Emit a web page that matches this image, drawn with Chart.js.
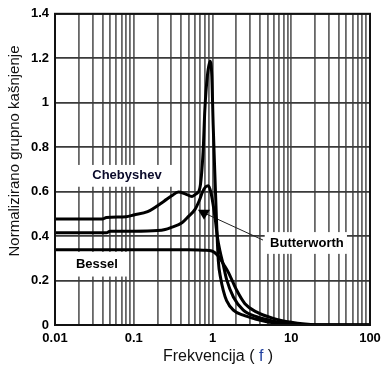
<!DOCTYPE html>
<html>
<head>
<meta charset="utf-8">
<script src="https://cdn.jsdelivr.net/npm/chart.js@4.4.1/dist/chart.umd.min.js"></script>
<style>
  html, body { margin: 0; padding: 0; background: #fff; }
  canvas { display: block; }
</style>
</head>
<body>
<canvas id="chartDelay" width="390" height="384"></canvas>
<script>
// frekvencija (normalizirana) i kasnjenje, ocitano sa slike
const chebFreq  = [0.01, 0.04, 0.045, 0.08, 0.1, 0.15, 0.24, 0.3, 0.37, 0.45, 0.55, 0.62, 0.69, 0.76, 0.8, 0.86, 0.93, 0.98, 1.02, 1.08, 1.13, 1.185, 1.27, 1.37, 1.51, 1.84, 2.46, 3.5, 4.88, 7, 10, 15, 20, 100];
const chebDelay = [0.477, 0.477, 0.484, 0.487, 0.495, 0.51, 0.556, 0.58, 0.598, 0.59, 0.578, 0.59, 0.615, 0.78, 0.97, 1.12, 1.187, 1.12, 0.9, 0.644, 0.45, 0.29, 0.21, 0.156, 0.11, 0.067, 0.044, 0.027, 0.015, 0.008, 0.004, 0.001, 0, 0];

const butterFreq  = [0.01, 0.045, 0.05, 0.1, 0.2, 0.25, 0.29, 0.41, 0.5, 0.6, 0.68, 0.75, 0.82, 0.885, 0.95, 1.02, 1.08, 1.16, 1.245, 1.37, 1.51, 1.84, 2.46, 3.64, 6.5, 10, 15, 20, 100];
const butterDelay = [0.415, 0.415, 0.422, 0.422, 0.425, 0.43, 0.437, 0.46, 0.49, 0.52, 0.56, 0.6, 0.622, 0.627, 0.6, 0.54, 0.48, 0.39, 0.333, 0.27, 0.205, 0.126, 0.067, 0.037, 0.015, 0.006, 0.002, 0, 0];

const besselFreq  = [0.01, 0.5, 0.8, 0.98, 1.18, 1.4, 1.59, 2.03, 2.58, 3.6, 5.9, 10, 15, 20, 100];
const besselDelay = [0.338, 0.338, 0.336, 0.333, 0.31, 0.27, 0.237, 0.156, 0.096, 0.059, 0.03, 0.012, 0.004, 0.001, 0];

const decades = [0.01, 0.1, 1, 10, 100];
const yTicks = [0, 0.2, 0.4, 0.6, 0.8, 1, 1.2, 1.4];

const toPoints = (xs, ys) => xs.map((x, i) => ({ x: x, y: ys[i] }));

const tickFont = { family: '"Liberation Sans", Arial, sans-serif', size: 13, weight: 'bold' };
const xTitleFont = '16px "Liberation Sans", Arial, sans-serif';
const yTitleFont = '15px "Liberation Sans", Arial, sans-serif';
const labelFont = 'bold 13px "Liberation Sans", Arial, sans-serif';

function curve(label, xs, ys) {
  return {
    label: label,
    data: toPoints(xs, ys),
    borderColor: '#000',
    borderWidth: 3,
    pointRadius: 0,
    cubicInterpolationMode: 'monotone',
    fill: false,
  };
}

// bijeli okviri s natpisima, strelica, okvir i naslovi osi
const labelsPlugin = {
  id: 'labelsPlugin',
  beforeDatasetsDraw(chart) {
    const { ctx, chartArea } = chart;
    const xs = chart.scales.x, ys = chart.scales.y;
    const px = (v) => xs.getPixelForValue(v);
    const py = (v) => ys.getPixelForValue(v);

    ctx.save();
    ctx.fillStyle = '#fff';
    ctx.fillRect(chartArea.left + 1, py(0.72), px(0.334) - chartArea.left - 1, py(0.622) - py(0.72));
    ctx.fillRect(chartArea.left + 1, py(0.329), px(0.0845) - chartArea.left - 1, py(0.218) - py(0.329));
    ctx.fillRect(px(4.6), py(0.418), px(51) - px(4.6), py(0.32) - py(0.418));

    ctx.font = labelFont;
    ctx.textAlign = 'center';
    ctx.textBaseline = 'middle';
    ctx.fillStyle = '#0a0a2a';
    ctx.fillText('Chebyshev', px(0.082), py(0.671));
    ctx.fillStyle = '#000';
    ctx.fillText('Bessel', px(0.034), py(0.274));
    ctx.fillText('Butterworth', px(15.8), py(0.369));

    // strelica za Butterworth
    const tx = px(0.78), ty = py(0.5);
    ctx.strokeStyle = '#222';
    ctx.lineWidth = 1;
    ctx.beginPath();
    ctx.moveTo(px(4.38), py(0.382));
    ctx.lineTo(tx + 2, ty);
    ctx.stroke();
    ctx.beginPath();
    ctx.moveTo(tx - 6, ty - 4);
    ctx.lineTo(tx + 6, ty - 4);
    ctx.lineTo(tx, ty + 6);
    ctx.closePath();
    ctx.fillStyle = '#000';
    ctx.fill();
    ctx.restore();
  },
  afterDraw(chart) {
    const { ctx, chartArea } = chart;
    ctx.save();
    ctx.strokeStyle = '#111';
    ctx.lineWidth = 2;
    ctx.strokeRect(chartArea.left, chartArea.top, chartArea.right - chartArea.left, chartArea.bottom - chartArea.top);

    ctx.font = xTitleFont;
    ctx.textBaseline = 'middle';
    // naslov x osi, slovo f plavo
    const parts = [['Frekvencija ( ', '#111'], ['f', '#1f3f9f'], [' )', '#111']];
    const total = parts.reduce((s, p) => s + ctx.measureText(p[0]).width, 0);
    let x = 218 - total / 2;
    ctx.textAlign = 'left';
    parts.forEach(p => {
      ctx.fillStyle = p[1];
      ctx.fillText(p[0], x, 357);
      x += ctx.measureText(p[0]).width;
    });

    ctx.font = yTitleFont;
    ctx.translate(15, 151);
    ctx.rotate(-Math.PI / 2);
    ctx.textAlign = 'center';
    ctx.fillStyle = '#111';
    ctx.fillText('Normalizirano grupno kašnjenje', 0, 0);
    ctx.restore();
  }
};

const configDelay = {
  type: 'line',
  data: {
    datasets: [
      curve('Chebyshev', chebFreq, chebDelay),
      curve('Butterworth', butterFreq, butterDelay),
      curve('Bessel', besselFreq, besselDelay),
    ],
  },
  options: {
    responsive: false,
    animation: false,
    layout: { padding: { top: 10, right: 20, left: 0, bottom: 0 } },
    plugins: { legend: { display: false }, tooltip: { enabled: false } },
    scales: {
      x: {
        type: 'logarithmic',
        min: 0.01,
        max: 100,
        afterBuildTicks(scale) {
          const ticks = [];
          decades.forEach(d => {
            for (let m = 1; m <= 9; m++) {
              const v = Number((d * m).toPrecision(3));
              if (v <= 100) ticks.push({ value: v });
            }
          });
          scale.ticks = ticks;
        },
        afterFit(scale) { scale.height = 59; },
        ticks: {
          autoSkip: false,
          maxRotation: 0,
          padding: 6,
          color: '#000',
          font: tickFont,
          callback: (v) => decades.includes(v) ? String(v) : '',
        },
        grid: { color: '#666', lineWidth: 1.8, drawTicks: false },
        border: { display: false },
      },
      y: {
        min: 0,
        max: 1.4,
        afterBuildTicks(scale) { scale.ticks = yTicks.map(v => ({ value: v })); },
        afterFit(scale) { scale.width = 55; },
        ticks: {
          padding: 6,
          color: '#000',
          font: tickFont,
          callback: (v) => String(Number(v.toFixed(1))),
        },
        grid: { color: '#3a3a3a', lineWidth: 1.8, drawTicks: false },
        border: { display: false },
      },
    },
  },
  plugins: [labelsPlugin],
};

const chartDelay = new Chart(document.getElementById('chartDelay'), configDelay);
</script>
</body>
</html>
